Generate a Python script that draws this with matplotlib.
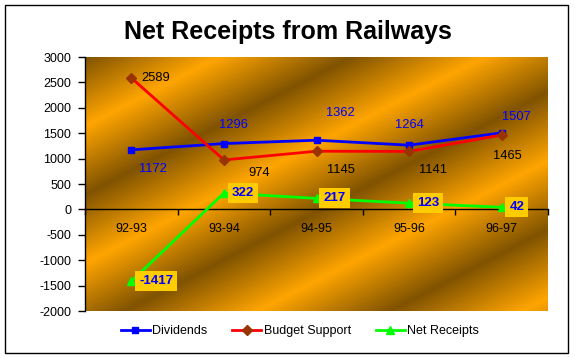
import numpy as np
import matplotlib
matplotlib.use('Agg')
import matplotlib.pyplot as plt
from matplotlib.patches import Rectangle


#DATA

years = ['92-93', '93-94', '94-95', '95-96', '96-97']

dividends = [1172, 1296, 1362, 1264, 1507]
budget_support = [2589, 974, 1145, 1141, 1465]
net_receipts = [-1417, 322, 217, 123, 42]

y_ticks = list(range(-2000, 3001, 500))


#Label offsets in pixels (dx, dy upwards)

div_off = [(22, -19), (10, 19), (24, 27), (0, 20), (15, 16)]
bud_off = [(24, 0), (35, -13), (24, -19), (24, -19), (6, -21)]
net_off = [(25, 0), (19, 0), (18, 0), (19, 0), (15, 0)]


plt.rcParams['font.family'] = ['Liberation Sans', 'DejaVu Sans']

W, H = 575, 358
fig = plt.figure(figsize=(W / 100, H / 100), dpi=100)
fig.patch.set_facecolor('white')

#Outer border of the chart
fig.patches.append(Rectangle((5 / W, 5 / H), 563 / W, 348 / H, transform=fig.transFigure,
                             fill=False, edgecolor='black', linewidth=1))

fig.text(0.501, 1 - 32 / H, 'Net Receipts from Railways', ha='center', va='center',
         fontsize=18, fontweight='bold')

ax = fig.add_axes([85 / W, 47 / H, 463 / W, 254 / H])

x = np.arange(len(years))


#GRADIENT BACKGROUND (diagonal stripes)

pw, ph = 463, 254
px, py = np.meshgrid(np.arange(pw), np.arange(ph))
phase = px / 265 + py / 137
d = np.abs(2 * (phase % 1) - 1)
light = np.array([255, 165, 0]) / 255
dark = np.array([128, 83, 0]) / 255
img = light[None, None, :] * (1 - d[..., None]) + dark[None, None, :] * d[..., None]

ax.imshow(img, extent=[-0.5, 4.5, -2000, 3000], aspect='auto', zorder=0, interpolation='bilinear')


#LINES

ax.plot(x, dividends, color='#0000FF', linewidth=2, marker='s', markersize=4.8,
        markerfacecolor='#0000FF', markeredgecolor='#0000FF', label='Dividends', zorder=3)
ax.plot(x, budget_support, color='#FF0000', linewidth=2, marker='D', markersize=5.5,
        markerfacecolor='#993300', markeredgecolor='#993300', label='Budget Support', zorder=3)
ax.plot(x, net_receipts, color='#00FF00', linewidth=2, marker='^', markersize=6,
        markerfacecolor='#00FF00', markeredgecolor='#00FF00', label='Net Receipts', zorder=3)


#DATA LABELS

for i in range(len(years)):

    ax.annotate(str(dividends[i]), (x[i], dividends[i]), xytext=div_off[i],
                textcoords='offset pixels', ha='center', va='center', fontsize=9.3, color='#0000FF', zorder=4)

    ax.annotate(str(budget_support[i]), (x[i], budget_support[i]), xytext=bud_off[i],
                textcoords='offset pixels', ha='center', va='center', fontsize=9.3, color='black', zorder=4)

    ax.annotate(str(net_receipts[i]), (x[i], net_receipts[i]), xytext=net_off[i],
                textcoords='offset pixels', ha='center', va='center', fontsize=9.5, fontweight='bold',
                color='#0000FF', zorder=4,
                bbox=dict(boxstyle='square,pad=0.3', facecolor='#FFCC00', edgecolor='none'))


#AXES

ax.set_xlim(-0.5, 4.5)
ax.set_ylim(-2000, 3000)
ax.set_yticks(y_ticks)
ax.set_yticklabels([str(v) for v in y_ticks])
ax.tick_params(axis='y', direction='out', length=5, width=1, pad=5, labelsize=9)

ax.set_xticks(np.arange(-0.5, 4.6, 1))
ax.set_xticklabels([])
ax.tick_params(axis='x', which='major', direction='out', length=4, width=1)
ax.set_xticks(x, minor=True)
ax.set_xticklabels(years, minor=True)
ax.tick_params(axis='x', which='minor', length=0, pad=10, labelsize=9)

ax.spines['bottom'].set_position(('data', 0))
ax.spines['top'].set_visible(False)
ax.spines['right'].set_visible(False)
for s in ['left', 'bottom']:
    ax.spines[s].set_linewidth(1)
    ax.spines[s].set_color('black')
    ax.spines[s].set_zorder(2)


#LEGEND

fig.legend(loc='center', bbox_to_anchor=(300 / W, 1 - 331 / H), ncol=3, frameon=False,
           fontsize=9, handlelength=2.3, handletextpad=0.2, columnspacing=2.0)

plt.savefig('out.png', dpi=100)
